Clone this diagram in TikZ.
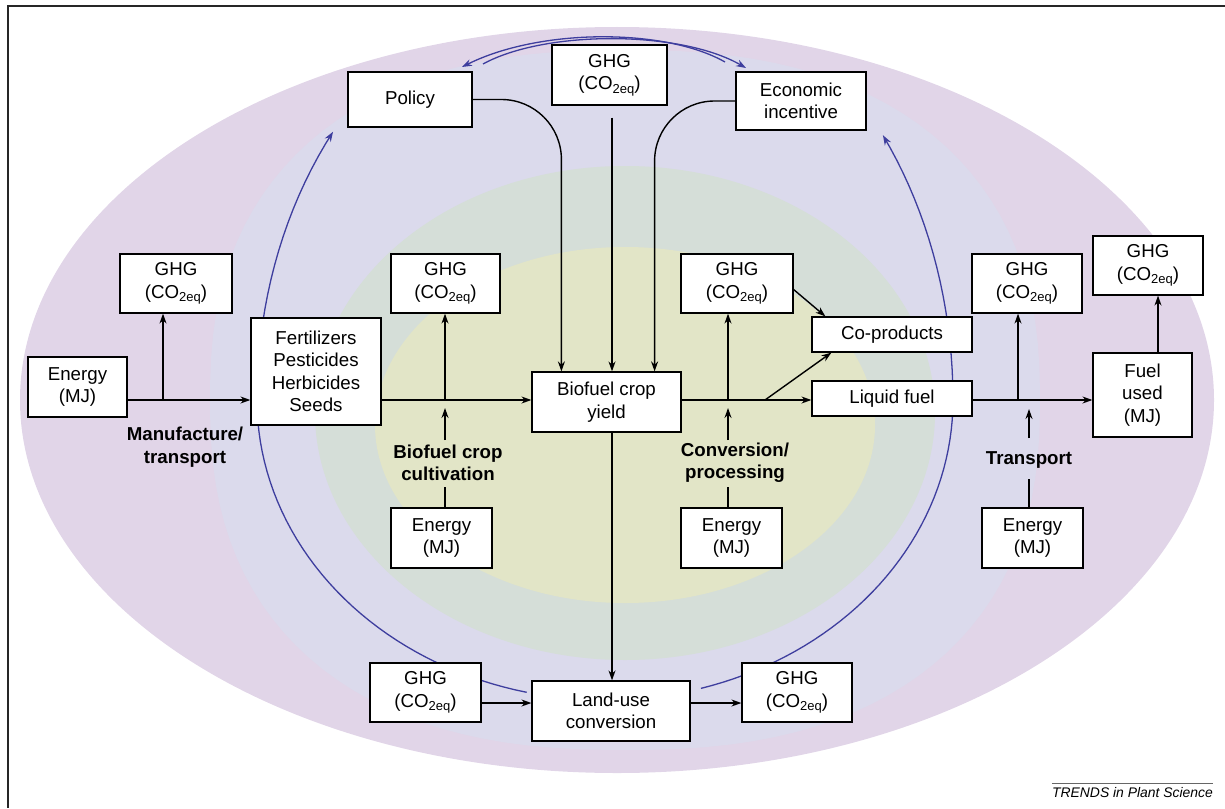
\documentclass[tikz,border=0pt]{standalone}
\usepackage{fontspec}
\setmainfont{Liberation Sans}
\usetikzlibrary{arrows.meta,calc,backgrounds}
\definecolor{pinkbg}{RGB}{225,213,232}
\definecolor{lavbg}{RGB}{219,218,236}
\definecolor{grnbg}{RGB}{213,222,216}
\definecolor{ylwbg}{RGB}{226,229,199}
\definecolor{bluearc}{RGB}{62,62,158}
\newcommand{\coeq}{(CO\raisebox{-0.35ex}{\fontsize{13}{13}\selectfont 2eq})}
\begin{document}
\begin{tikzpicture}[x=1pt,y=-1pt,
  box/.style={draw=black, fill=white, line width=1.2pt, align=center, inner sep=0pt, font=\fontsize{18.7}{22.4}\selectfont},
  lab/.style={align=center, inner sep=0pt, font=\fontsize{18.7}{22.4}\selectfont\bfseries},
  arr/.style={line width=1.4pt, -{Stealth[length=10pt,width=7pt]}},
  ln/.style={line width=1.4pt},
  barr/.style={draw=bluearc, line width=1.3pt, -{Stealth[length=10pt,width=7pt]}},
]
\useasboundingbox (0,0) rectangle (1225,808);

% ---- boxes
\node[box, minimum width=124pt, minimum height=55pt] (policy) at (410,99.5) {Policy};
\node[box, minimum width=115pt, minimum height=60pt] (ghgT) at (609.5,75) {GHG\\\coeq};
\node[box, minimum width=130pt, minimum height=58pt] (econ) at (801,101) {Economic\\incentive};
\node[box, minimum width=112pt, minimum height=59pt] (ghgL) at (176,283.5) {GHG\\\coeq};
\node[box, minimum width=99pt, minimum height=60pt] (enL) at (77.5,387) {Energy\\(MJ)};
\node[box, minimum width=130pt, minimum height=107pt] (fert) at (316,371.5) {Fertilizers\\Pesticides\\Herbicides\\Seeds};
\node[box, minimum width=109pt, minimum height=59pt] (ghgC) at (445.5,283.5) {GHG\\\coeq};
\node[box, minimum width=149pt, minimum height=60pt] (yield) at (606.5,402) {Biofuel crop\\yield};
\node[box, minimum width=112pt, minimum height=59pt] (ghgV) at (737,283.5) {GHG\\\coeq};
\node[box, minimum width=160pt, minimum height=35pt] (cop) at (892,334.5) {Co-products};
\node[box, minimum width=160pt, minimum height=35pt] (liq) at (892,398.5) {Liquid fuel};
\node[box, minimum width=110pt, minimum height=59pt] (ghgTr) at (1027,283.5) {GHG\\\coeq};
\node[box, minimum width=110pt, minimum height=59pt] (ghgF) at (1148,265.5) {GHG\\\coeq};
\node[box, minimum width=99pt, minimum height=84pt] (fuel) at (1142.5,395) {Fuel\\used\\(MJ)};
\node[box, minimum width=101pt, minimum height=60pt] (enC) at (441.5,538) {Energy\\(MJ)};
\node[box, minimum width=101pt, minimum height=60pt] (enV) at (731.5,538) {Energy\\(MJ)};
\node[box, minimum width=101pt, minimum height=60pt] (enTr) at (1032.5,538) {Energy\\(MJ)};
\node[box, minimum width=111pt, minimum height=59pt] (ghgBL) at (425.5,692.5) {GHG\\\coeq};
\node[box, minimum width=158pt, minimum height=60pt] (land) at (611,711) {Land-use\\conversion};
\node[box, minimum width=110pt, minimum height=59pt] (ghgBR) at (797,692.5) {GHG\\\coeq};

% ---- labels
\node[lab] (labM) at (185,447) {Manufacture/\\transport};
\node[lab] (labC) at (448,463) {Biofuel crop\\cultivation};
\node[lab] (labV) at (735,463) {Conversion/\\processing};
\node[lab] (labT) at (1029,460) {Transport};

% ---- backgrounds and blue loops
\begin{pgfonlayer}{background}
\fill[pinkbg] (617,400) ellipse [x radius=597, y radius=373];
\fill[lavbg] plot[domain=0.5:359.5, samples=120, variable=\t]
  ({625+415*cos(\t)*pow(abs(cos(\t)),-0.1667)}, {400+350*sin(\t)*pow(abs(sin(\t)),-0.1667)}) -- cycle;
\fill[grnbg] (625,413) ellipse [x radius=310, y radius=247];
\fill[ylwbg] (625,425) ellipse [x radius=250, y radius=178];
\draw[barr] plot[domain=103:180, samples=40, variable=\t] ({605+348*cos(\t)},{400+300*sin(\t)})
  -- plot[domain=180:218.6, samples=20, variable=\t] ({605+348*cos(\t)},{400+430*sin(\t)});
\draw[barr] plot[domain=0:74, samples=40, variable=\t] ({605+348*cos(74-\t)},{400+300*sin(74-\t)})
  -- plot[domain=0:37, samples=20, variable=\t] ({605+348*cos(-\t)},{400+440*sin(-\t)});
\coordinate (a1s) at (725,62);
\coordinate (a1e) at (462,67);
\coordinate (a2s) at (483,64);
\coordinate (a2e) at (746,68);
\draw[barr] (a1s) .. controls (665,28) and (540,28) .. (a1e);
\draw[barr] (a2s) .. controls (545,30) and (680,30) .. (a2e);
\end{pgfonlayer}

% ---- connectors
\coordinate (mainY) at (0,400);
\draw[arr] (enL.east |- mainY) -- (fert.west |- mainY);
\coordinate (b1) at (163,400);
\draw[arr] (b1) -- (b1 |- ghgL.south);
\draw[arr] (fert.east |- mainY) -- (yield.west |- mainY);
\coordinate (b2) at (445,400);
\draw[arr] (b2) -- (b2 |- ghgC.south);
\draw[ln] (enC.north -| b2) -- ++(0,-20);
\draw[arr] ($(b2)+(0,40)$) -- ($(b2)+(0,8)$);
\draw[arr] (yield.east |- mainY) -- (liq.west |- mainY);
\coordinate (b3) at (728,400);
\draw[arr] (b3) -- (b3 |- ghgV.south);
\draw[ln] (enV.north -| b3) -- ++(0,-20);
\draw[arr] ($(b3)+(0,40)$) -- ($(b3)+(0,8)$);
\coordinate (d1) at (765,400);
\draw[arr] (d1) -- ($(cop.south west)+(20,0)$);
\draw[arr] ($(ghgV.east)+(0,6)$) -- ($(cop.north west)+(14,0)$);
\draw[arr] (liq.east |- mainY) -- (fuel.west |- mainY);
\coordinate (b4) at (1018,400);
\draw[arr] (b4) -- (b4 |- ghgTr.south);
\coordinate (b5) at (1029,400);
\draw[ln] (enTr.north -| b5) -- ++(0,-28);
\draw[arr] ($(b5)+(0,38)$) -- ($(b5)+(0,9)$);
\coordinate (b6) at (1158,0);
\draw[arr] (fuel.north -| b6) -- (ghgF.south -| b6);
\draw[arr, rounded corners=60pt] (policy.east) -| ($(yield.north west)+(30,0)$);
\coordinate (gx) at (612,0);
\draw[arr] ($(ghgT.south -| gx)+(0,12)$) -- (yield.north -| gx);
\draw[arr, rounded corners=60pt] (econ.west) -| ($(yield.north east)+(-27,0)$);
\draw[arr] (yield.south -| gx) -- (land.north -| gx);
\coordinate (hy) at (0,703);
\draw[arr] (ghgBL.east |- hy) -- (land.west |- hy);
\draw[arr] (land.east |- hy) -- (ghgBR.west |- hy);

% ---- frame and caption
\coordinate (fTL) at (8,6);
\draw[line width=1.8pt, black!85] (1225,6) -- (fTL) -- (8,808);
\node[anchor=base east, inner sep=0pt, font=\fontsize{13.9}{16}\selectfont\itshape] (cap) at (1213,797) {TRENDS in Plant Science};
\draw[line width=1pt, black!60] ($(cap.north west)+(0,-3)$) -- ($(cap.north east)+(0,-3)$);
\end{tikzpicture}
\end{document}
